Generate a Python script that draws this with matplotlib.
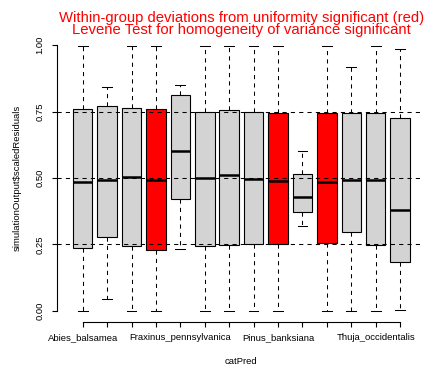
import matplotlib
matplotlib.use("Agg")
import matplotlib.pyplot as plt

# categories of catPred (only every 4th name fits under the axis)
species = [
    "Abies_balsamea", "Acer_rubrum", "Acer_saccharum", "Betula_papyrifera",
    "Fraxinus_pennsylvanica", "Larix_laricina", "Picea_glauca", "Picea_mariana",
    "Pinus_banksiana", "Pinus_resinosa", "Pinus_strobus", "Populus_tremuloides",
    "Thuja_occidentalis", "Tsuga_canadensis",
]

# box statistics of scaled residuals per group
whis_lo = [0.001, 0.044, 0.001, 0.001, 0.234, 0.001, 0.001,
           0.001, 0.001, 0.320, 0.001, 0.001, 0.001, 0.004]
q1 = [0.236, 0.278, 0.245, 0.230, 0.421, 0.246, 0.249,
      0.250, 0.250, 0.374, 0.255, 0.297, 0.248, 0.184]
median = [0.485, 0.494, 0.505, 0.493, 0.600, 0.501, 0.513,
          0.498, 0.490, 0.427, 0.485, 0.494, 0.491, 0.381]
q3 = [0.758, 0.770, 0.765, 0.761, 0.812, 0.749, 0.755,
      0.749, 0.743, 0.514, 0.743, 0.744, 0.745, 0.725]
whis_hi = [0.996, 0.842, 0.996, 0.996, 0.848, 0.996, 0.996,
           0.996, 0.996, 0.602, 0.996, 0.917, 0.996, 0.984]

# groups with significant within-group deviation from uniformity
significant = [False, False, False, True, False, False, False,
               False, True, False, True, False, False, False]

plt.rcParams["font.family"] = ["Liberation Sans", "DejaVu Sans"]

fig = plt.figure(figsize=(4.24, 3.72), dpi=100)
ax = fig.add_axes([56.8 / 424, 50.4 / 372, 369.2 / 424, 287.2 / 372])

stats = []
for i in range(len(species)):
    stats.append(dict(med=median[i], q1=q1[i], q3=q3[i],
                      whislo=whis_lo[i], whishi=whis_hi[i], fliers=[]))

positions = list(range(1, len(species) + 1))
res = ax.bxp(
    stats, positions=positions, widths=0.8, capwidths=0.4,
    patch_artist=True, showfliers=False,
    boxprops=dict(edgecolor="black", linewidth=0.8),
    medianprops=dict(color="black", linewidth=1.8, solid_capstyle="butt"),
    whiskerprops=dict(color="black", linewidth=0.75, linestyle=(0, (4, 4))),
    capprops=dict(color="black", linewidth=0.75),
)
for box, sig in zip(res["boxes"], significant):
    box.set_facecolor("red" if sig else "lightgray")

# reference lines for the quartiles of a uniform distribution
for h in [0.25, 0.5, 0.75]:
    ax.axhline(h, color="black", linewidth=0.75, linestyle=(0, (4, 4)), zorder=5)

ax.set_xlim(-0.06, 15.06)
ax.set_ylim(-0.04, 1.04)

ax.spines["top"].set_visible(False)
ax.spines["right"].set_visible(False)
ax.spines["left"].set_bounds(0, 1)
ax.spines["bottom"].set_bounds(1, len(species))
ax.spines["left"].set_linewidth(0.8)
ax.spines["bottom"].set_linewidth(0.8)

ax.set_xticks(positions)
ax.set_xticklabels([s if i % 4 == 0 else "" for i, s in enumerate(species)],
                   fontsize=6.8)
ax.set_yticks([0, 0.25, 0.5, 0.75, 1.0])
ax.set_yticklabels(["0.00", "0.25", "0.50", "0.75", "1.00"],
                   fontsize=6.8, rotation=90, va="center")
ax.tick_params(axis="both", length=3.3, width=0.8)
ax.tick_params(axis="x", pad=5)
ax.tick_params(axis="y", pad=5.5)

ax.set_xlabel("catPred", fontsize=6.8, labelpad=11)
ax.set_ylabel("simulationOutput$scaledResiduals", fontsize=6.8, labelpad=10)

# two-line red title
ax.text(0.5, 1.0 + 10.5 / 287.2,
        "Within-group deviations from uniformity significant (red)\n"
        "Levene Test for homogeneity of variance significant",
        transform=ax.transAxes, ha="center", va="center",
        color="red", fontsize=10.7, linespacing=0.76)

fig.savefig("out.png", dpi=100)
